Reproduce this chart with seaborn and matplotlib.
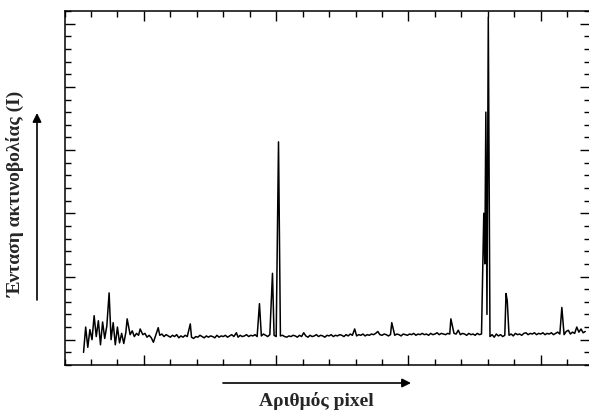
import numpy as np
import pandas as pd
import matplotlib
matplotlib.use("Agg")
import matplotlib.pyplot as plt
from matplotlib.ticker import MultipleLocator, NullFormatter
import seaborn as sns

# ---- data ----
# baseline samples: pixel = 136 + 4*i
baseline_start = 136
baseline_step = 4
baseline_intensity = [
    -0.20, 0.20, -0.12, 0.16, 0.00, 0.38, 0.05, 0.30, -0.08, 0.28,
    0.02, 0.22, 0.40, 0.00, 0.27, -0.08, 0.20, -0.05, 0.10, -0.06,
    0.12, 0.10, 0.08, 0.14, 0.05, 0.10, 0.07, 0.08, 0.08, 0.10,
    0.04, 0.07, 0.03, -0.04, 0.06, 0.07, 0.07, 0.09, 0.05, 0.08,
    0.06, 0.04, 0.07, 0.05, 0.08, 0.03, 0.06, 0.04, 0.07, 0.05,
    0.06, 0.04, 0.02, 0.05, 0.04, 0.07, 0.05, 0.03, 0.06, 0.04,
    0.06, 0.05, 0.03, 0.07, 0.04, 0.06, 0.05, 0.07, 0.04, 0.06,
    0.08, 0.05, 0.06, 0.04, 0.07, 0.05, 0.06, 0.08, 0.05, 0.07,
    0.06, 0.08, 0.05, 0.07, 0.06, 0.09, 0.07, 0.05, 0.08, 0.06,
    0.07, 0.05, 0.08, 0.06, 0.07, 0.05, 0.04, 0.06, 0.05, 0.07,
    0.06, 0.04, 0.07, 0.05, 0.11, 0.06, 0.04, 0.07, 0.05, 0.06,
    0.08, 0.05, 0.07, 0.06, 0.04, 0.07, 0.06, 0.08, 0.05, 0.07,
    0.06, 0.08, 0.07, 0.05, 0.08, 0.06, 0.09, 0.07, 0.08, 0.06,
    0.08, 0.07, 0.09, 0.06, 0.08, 0.07, 0.09, 0.08, 0.10, 0.13,
    0.08, 0.07, 0.09, 0.08, 0.06, 0.08, 0.09, 0.07, 0.09, 0.08,
    0.06, 0.09, 0.08, 0.07, 0.09, 0.08, 0.10, 0.07, 0.09, 0.08,
    0.10, 0.08, 0.09, 0.07, 0.10, 0.08, 0.09, 0.11, 0.08, 0.10,
    0.09, 0.08, 0.10, 0.09, 0.08, 0.10, 0.09, 0.15, 0.08, 0.10,
    0.09, 0.07, 0.10, 0.08, 0.09, 0.07, 0.10, 0.08, 0.09, 0.10,
    0.10, 0.10, 0.05, 0.08, 0.04, 0.09, 0.06, 0.08, 0.05, 0.07,
    0.10, 0.07, 0.09, 0.06, 0.10, 0.08, 0.09, 0.07, 0.10, 0.11,
    0.08, 0.10, 0.09, 0.11, 0.08, 0.10, 0.09, 0.11, 0.08, 0.10,
    0.09, 0.11, 0.08, 0.10, 0.12, 0.09, 0.10, 0.08, 0.13, 0.15,
    0.09, 0.12, 0.10, 0.20, 0.12, 0.17, 0.11, 0.13,
]

# emission lines (pixel position, intensity)
line_pixel = [184.3, 218.4, 243.0, 277.1, 337.7, 424.8, 468.4, 493.0, 504.4,
              648.3, 718.4, 830.1, 892.3, 894.2, 896.2, 898.3, 900.8,
              934.3, 936.6, 1039.8]
line_intensity = [0.74, 0.33, 0.17, 0.19, 0.25, 0.11, 0.57, 1.05, 3.13,
                  0.17, 0.27, 0.33, 2.00, 1.20, 3.60, 0.40, 5.10,
                  0.73, 0.62, 0.51]

x_label = "Αριθμός pixel"
y_label = "Ένταση ακτινοβολίας (I)"

# ---- build the table ----
base_pixel = baseline_start + baseline_step * np.arange(len(baseline_intensity))
base_df = pd.DataFrame({"pixel": base_pixel, "intensity": baseline_intensity})
lines_df = pd.DataFrame({"pixel": line_pixel, "intensity": line_intensity})
lp = np.array(line_pixel)
keep = np.array([np.min(np.abs(lp - p)) >= 2.0 for p in base_df["pixel"]])
df = pd.concat([base_df[keep], lines_df]).sort_values("pixel").reset_index(drop=True)

# ---- figure ----
sns.set_style("ticks")
plt.rcParams["font.family"] = ["Liberation Serif", "DejaVu Serif"]

W, H = 589, 412
fig = plt.figure(figsize=(W / 100, H / 100), dpi=100)
ax = fig.add_axes([64.5 / W, 1 - 365 / H, (590 - 64.5) / W, (365 - 11) / H])

sns.lineplot(data=df, x="pixel", y="intensity", ax=ax, color="black",
             linewidth=1.1, estimator=None, sort=True)

ax.set_xlim(100, 1093)
ax.set_ylim(-0.4, 5.2)
ax.xaxis.set_major_locator(MultipleLocator(250))
ax.xaxis.set_minor_locator(MultipleLocator(50))
ax.yaxis.set_major_locator(MultipleLocator(1))
ax.yaxis.set_minor_locator(MultipleLocator(0.2))
ax.xaxis.set_major_formatter(NullFormatter())
ax.yaxis.set_major_formatter(NullFormatter())
ax.tick_params(which="both", direction="in", top=True, right=True,
               bottom=True, left=True, width=1.0, color="black")
ax.tick_params(which="major", length=7.5)
ax.tick_params(which="minor", length=4)
ax.set_xlabel("")
ax.set_ylabel("")
for s in ax.spines.values():
    s.set_color("black")
    s.set_linewidth(1.1)
ax.spines["right"].set_visible(False)

# axis titles and arrows
fig.text(16 / W, (H - 194) / H, y_label, rotation=90, ha="center", va="center",
         fontsize=14, fontweight="bold")
fig.text(316 / W, (H - 401) / H, x_label, ha="center", va="center",
         fontsize=14, fontweight="bold")

ax.annotate("", xy=(37, H - 113), xytext=(37, H - 300), xycoords="figure pixels",
            textcoords="figure pixels", annotation_clip=False,
            arrowprops=dict(arrowstyle="-|>", color="black", lw=1.2,
                            mutation_scale=13, shrinkA=0, shrinkB=0))
ax.annotate("", xy=(411, H - 383), xytext=(223, H - 383), xycoords="figure pixels",
            textcoords="figure pixels", annotation_clip=False,
            arrowprops=dict(arrowstyle="-|>", color="black", lw=1.2,
                            mutation_scale=13, shrinkA=0, shrinkB=0))

fig.savefig("out.png", dpi=100)
